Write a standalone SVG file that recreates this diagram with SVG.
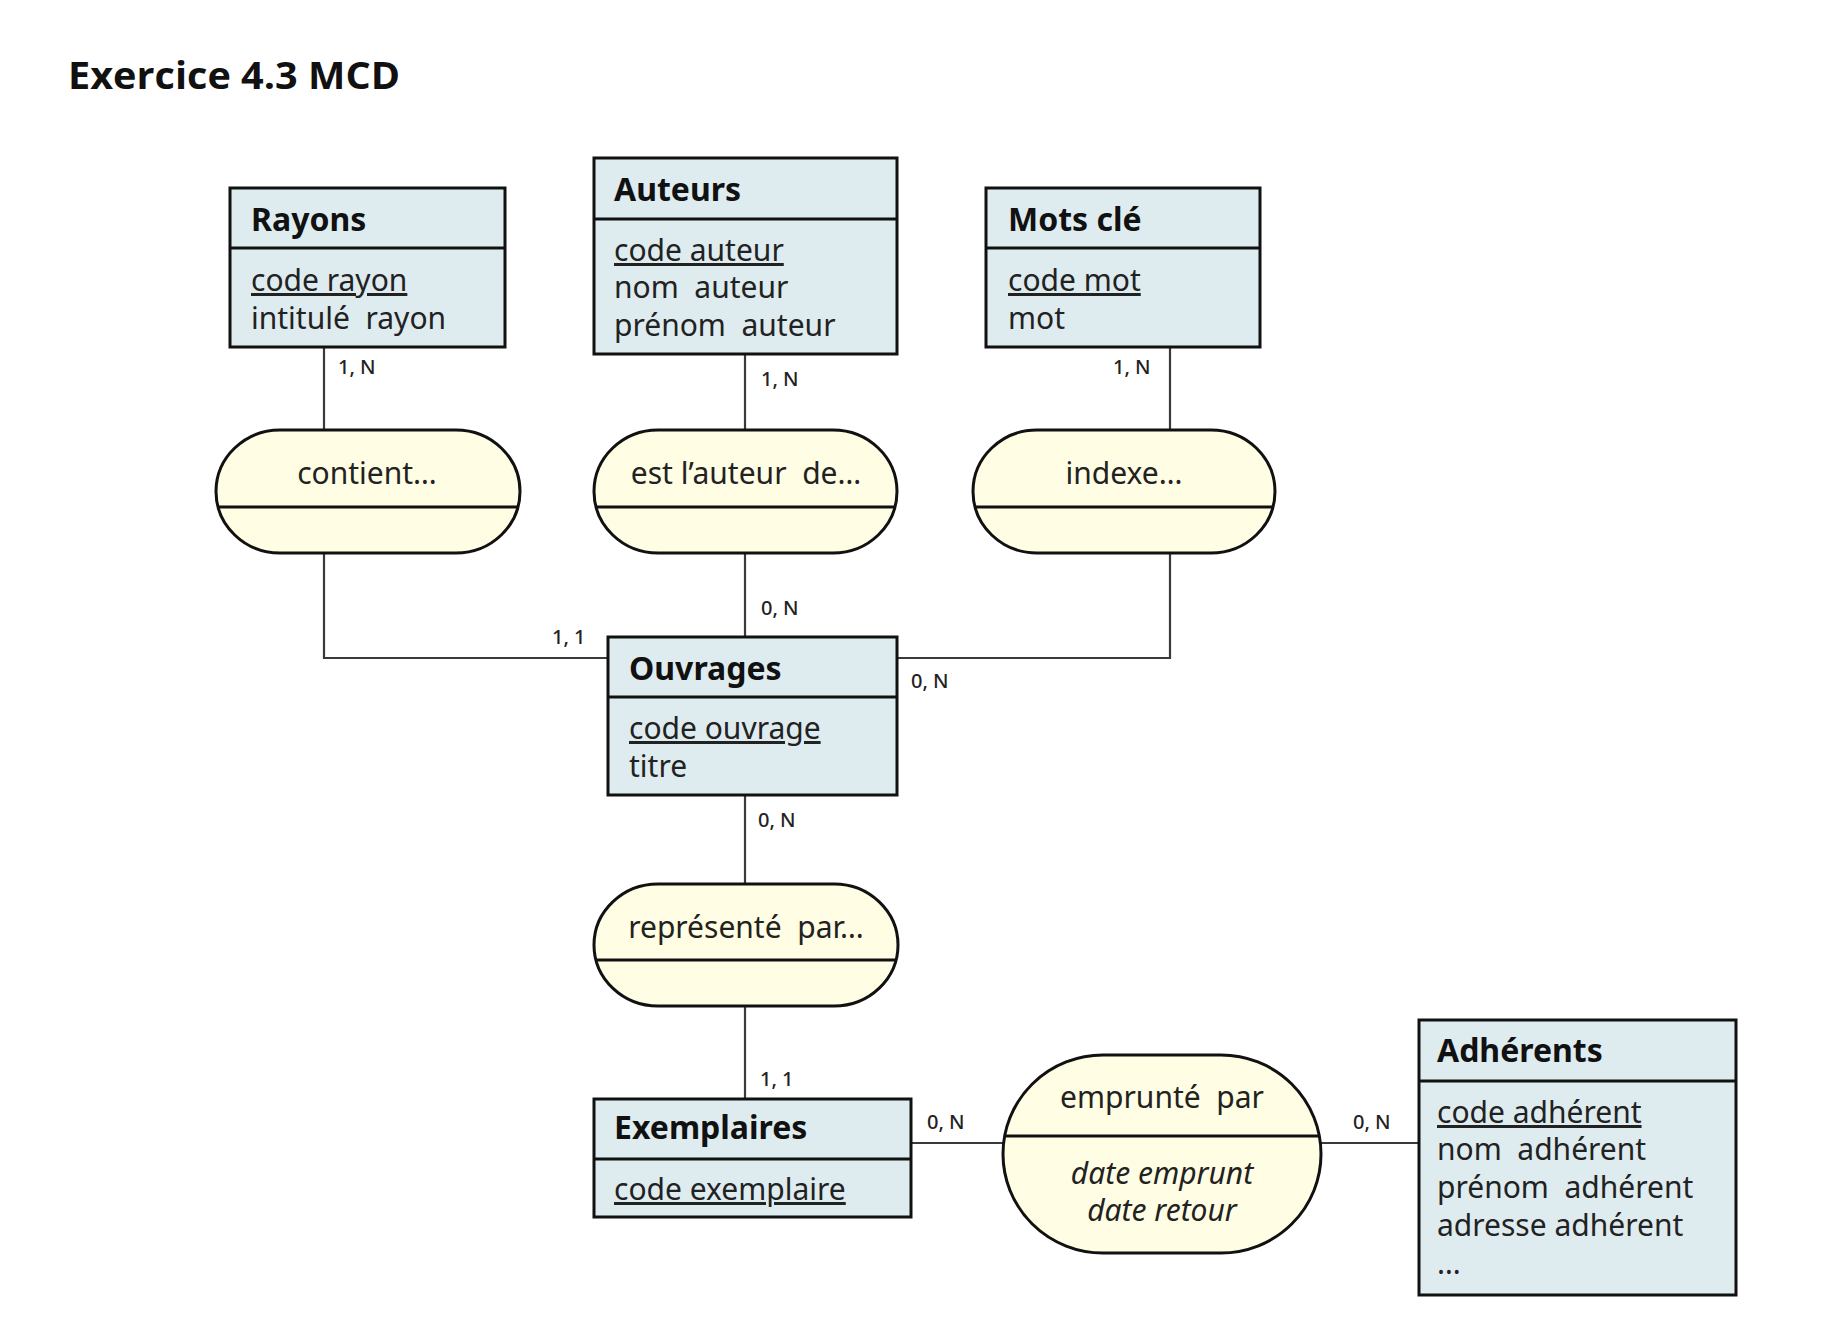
<svg xmlns="http://www.w3.org/2000/svg" width="1834" height="1330" viewBox="0 0 1834 1330">
<style>
.ent{fill:#deecf0;stroke:#111;stroke-width:3}
.rel{fill:#fffde3;stroke:#111;stroke-width:3}
.div{stroke:#111;stroke-width:3}
.con{fill:none;stroke:#3a3a3a;stroke-width:2.2}
.t{font-family:"Noto Sans","Open Sans",sans-serif;font-size:30px;fill:#222;white-space:pre}
.h{font-family:"Noto Sans","Open Sans",sans-serif;font-size:32px;font-weight:bold;fill:#111}
.u{text-decoration:underline}
.c{font-family:"Noto Sans","Open Sans",sans-serif;font-size:20px;font-weight:500;fill:#222}
.i{font-style:italic}
.m{text-anchor:middle}
</style>
<rect width="1834" height="1330" fill="#fff"/>
<text x="68" y="89" font-family="'Open Sans','Noto Sans',sans-serif" font-size="37" font-weight="bold" fill="#111" textLength="332" lengthAdjust="spacingAndGlyphs">Exercice 4.3 MCD</text>

<g id="connectors">
<path class="con" d="M324 347V430"/>
<path class="con" d="M324 553V658H608"/>
<path class="con" d="M745 354V430"/>
<path class="con" d="M745 553V637"/>
<path class="con" d="M1170 347V430"/>
<path class="con" d="M1170 553V658H897"/>
<path class="con" d="M745 795V884"/>
<path class="con" d="M745 1006V1099"/>
<path class="con" d="M911 1143H1003"/>
<path class="con" d="M1321 1143H1419"/>
<text class="c" x="338" y="374">1, N</text>
<text class="c" x="761" y="386">1, N</text>
<text class="c" x="1113" y="374">1, N</text>
<text class="c" x="761" y="615">0, N</text>
<text class="c" x="552" y="644">1, 1</text>
<text class="c" x="911" y="688">0, N</text>
<text class="c" x="758" y="827">0, N</text>
<text class="c" x="760" y="1086">1, 1</text>
<text class="c" x="927" y="1129">0, N</text>
<text class="c" x="1353" y="1129">0, N</text>
</g>

<g id="rayons">
<rect class="ent" x="230" y="188" width="275" height="159"/>
<line class="div" x1="230" y1="248" x2="505" y2="248"/>
<text class="h" x="251" y="231">Rayons</text>
<text class="t u" x="251" y="291">code rayon</text>
<text class="t" x="251" y="329">intitulé  rayon</text>
</g>

<g id="auteurs">
<rect class="ent" x="594" y="158" width="303" height="196"/>
<line class="div" x1="594" y1="219" x2="897" y2="219"/>
<text class="h" x="614" y="201">Auteurs</text>
<text class="t u" x="614" y="261">code auteur</text>
<text class="t" x="614" y="298">nom  auteur</text>
<text class="t" x="614" y="336">prénom  auteur</text>
</g>

<g id="motscle">
<rect class="ent" x="986" y="188" width="274" height="159"/>
<line class="div" x1="986" y1="248" x2="1260" y2="248"/>
<text class="h" x="1008" y="231">Mots clé</text>
<text class="t u" x="1008" y="291">code mot</text>
<text class="t" x="1008" y="329">mot</text>
</g>

<g id="contient">
<rect class="rel" x="216" y="430" width="304" height="123" rx="64" ry="61.5"/>
<line class="div" x1="218" y1="507" x2="518" y2="507"/>
<text class="t m" x="367" y="484">contient…</text>
</g>

<g id="estauteur">
<rect class="rel" x="594" y="430" width="303" height="123" rx="64" ry="61.5"/>
<line class="div" x1="596" y1="507" x2="895" y2="507"/>
<text class="t m" x="746" y="484">est l’auteur  de…</text>
</g>

<g id="indexe">
<rect class="rel" x="973" y="430" width="302" height="123" rx="64" ry="61.5"/>
<line class="div" x1="975" y1="507" x2="1273" y2="507"/>
<text class="t m" x="1124" y="484">indexe…</text>
</g>

<g id="ouvrages">
<rect class="ent" x="608" y="637" width="289" height="158"/>
<line class="div" x1="608" y1="697" x2="897" y2="697"/>
<text class="h" x="629" y="680">Ouvrages</text>
<text class="t u" x="629" y="739">code ouvrage</text>
<text class="t" x="629" y="777">titre</text>
</g>

<g id="represente">
<rect class="rel" x="594" y="884" width="304" height="122" rx="64" ry="61"/>
<line class="div" x1="596" y1="960" x2="896" y2="960"/>
<text class="t m" x="746" y="938">représenté  par…</text>
</g>

<g id="exemplaires">
<rect class="ent" x="594" y="1099" width="317" height="118"/>
<line class="div" x1="594" y1="1159" x2="911" y2="1159"/>
<text class="h" x="614" y="1139">Exemplaires</text>
<text class="t u" x="614" y="1200">code exemplaire</text>
</g>

<g id="emprunte">
<rect class="rel" x="1003" y="1055" width="318" height="198" rx="100" ry="99"/>
<line class="div" x1="1005" y1="1136" x2="1319" y2="1136"/>
<text class="t m" x="1162" y="1108">emprunté  par</text>
<text class="t m i" x="1162" y="1184">date emprunt</text>
<text class="t m i" x="1162" y="1221">date retour</text>
</g>

<g id="adherents">
<rect class="ent" x="1419" y="1020" width="317" height="275"/>
<line class="div" x1="1419" y1="1081" x2="1736" y2="1081"/>
<text class="h" x="1437" y="1062">Adhérents</text>
<text class="t u" x="1437" y="1123">code adhérent</text>
<text class="t" x="1437" y="1160">nom  adhérent</text>
<text class="t" x="1437" y="1198">prénom  adhérent</text>
<text class="t" x="1437" y="1236">adresse adhérent</text>
<text class="t" x="1437" y="1274">…</text>
</g>
</svg>
